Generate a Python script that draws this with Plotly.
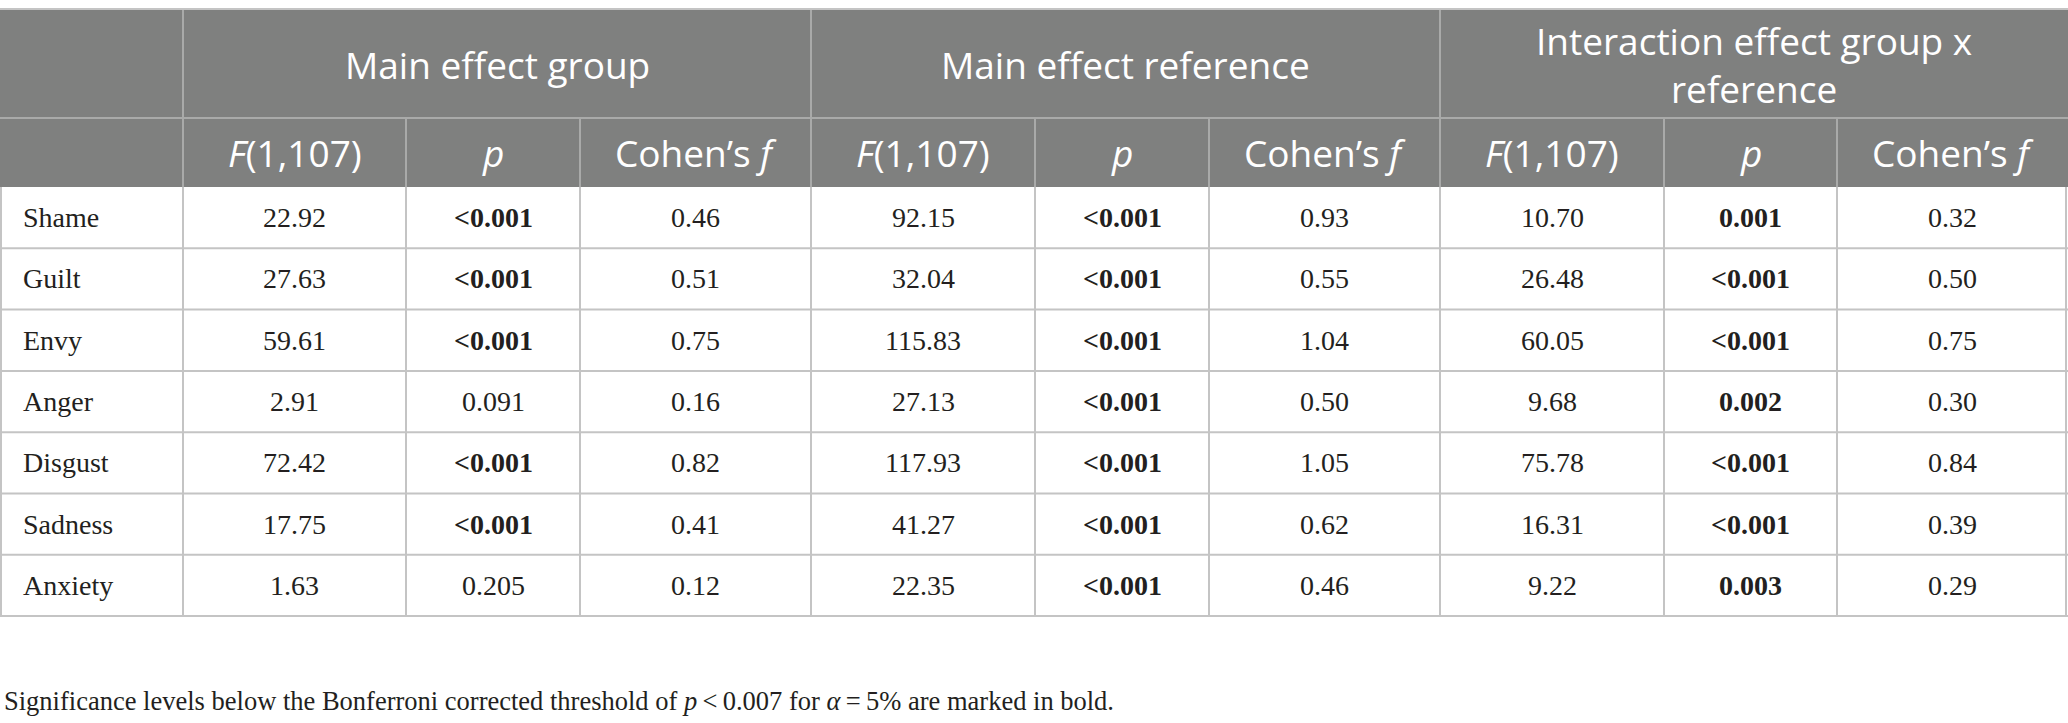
import plotly.graph_objects as go

# data
emotions = ["Shame", "Guilt", "Envy", "Anger", "Disgust", "Sadness", "Anxiety"]

f_group = ["22.92", "27.63", "59.61", "2.91", "72.42", "17.75", "1.63"]
p_group = ["<0.001", "<0.001", "<0.001", "0.091", "<0.001", "<0.001", "0.205"]
cf_group = ["0.46", "0.51", "0.75", "0.16", "0.82", "0.41", "0.12"]

f_ref = ["92.15", "32.04", "115.83", "27.13", "117.93", "41.27", "22.35"]
p_ref = ["<0.001", "<0.001", "<0.001", "<0.001", "<0.001", "<0.001", "<0.001"]
cf_ref = ["0.93", "0.55", "1.04", "0.50", "1.05", "0.62", "0.46"]

f_int = ["10.70", "26.48", "60.05", "9.68", "75.78", "16.31", "9.22"]
p_int = ["0.001", "<0.001", "<0.001", "0.002", "<0.001", "<0.001", "0.003"]
cf_int = ["0.32", "0.50", "0.75", "0.30", "0.84", "0.39", "0.29"]

groups = ["Main effect group", "Main effect reference", "Interaction effect group x<br>reference"]
subheads = ["<i>F</i>(1,107)", "<i>p</i>", "Cohen\u2019s <i>f</i>"]
footnote = ("Significance levels below the Bonferroni corrected threshold of "
            "<i>p</i>\u2009<\u20090.007 for <i>\u03b1</i>\u2009=\u20095% are marked in bold.")
threshold = 0.007

# layout of the table (pixels)
W, H = 2068, 723
col_w = [183, 223, 174, 231, 224, 174, 231, 224, 173, 231]
top, h1, h2, rh = 9, 109, 69, 61.3
hdr_bg = "#7f807f"
grid = "#c4c4c4"
hdr_line = "#a9aaa9"
txt = "#231f20"
sans = "Open Sans"
serif = "Liberation Serif"

edges = [0]
for w in col_w:
    edges.append(edges[-1] + w)


def is_sig(p):
    return float(p.replace("<", "")) < threshold


def cell_txt(v, bold=False):
    v = v.replace("<", "&lt;")
    return "<b>" + v + "</b>" if bold else v


columns = [f_group, p_group, cf_group, f_ref, p_ref, cf_ref, f_int, p_int, cf_int]
pcols = {1, 4, 7}

fig = go.Figure()
shapes = []
ann = []

y_h2 = top + h1
y_d = y_h2 + h2
y_end = y_d + rh * len(emotions)

# header background
shapes.append(dict(type="rect", x0=0, x1=W, y0=top, y1=y_d, fillcolor=hdr_bg,
                   line=dict(width=0), layer="below"))

# header row 1
for g, name in enumerate(groups):
    x0, x1 = edges[1 + 3 * g], edges[4 + 3 * g]
    ann.append(dict(x=(x0 + x1) / 2, y=top + h1 / 2 + 1, text=name, showarrow=False,
                    font=dict(family=sans, size=37, color="white"), xanchor="center",
                    yanchor="middle"))
    shapes.append(dict(type="line", x0=x0, x1=x0, y0=top, y1=y_d,
                       line=dict(color=hdr_line, width=2)))

# header row 2
for c in range(9):
    x0, x1 = edges[c + 1], edges[c + 2]
    ann.append(dict(x=(x0 + x1) / 2, y=y_h2 + h2 / 2, text=subheads[c % 3], showarrow=False,
                    font=dict(family=sans, size=37, color="white"), xanchor="center",
                    yanchor="middle"))
    if c % 3 != 0:
        shapes.append(dict(type="line", x0=x0, x1=x0, y0=y_h2, y1=y_d,
                           line=dict(color=hdr_line, width=2)))
shapes.append(dict(type="line", x0=0, x1=W, y0=y_h2, y1=y_h2, line=dict(color=hdr_line, width=2)))
shapes.append(dict(type="line", x0=0, x1=W, y0=top, y1=top, line=dict(color=grid, width=2)))

# data rows
for r, emo in enumerate(emotions):
    yc = y_d + rh * (r + 0.5)
    ann.append(dict(x=edges[0] + 21, y=yc, text=emo, showarrow=False, xanchor="left",
                    yanchor="middle", font=dict(family=serif, size=28, color=txt)))
    for c, col in enumerate(columns):
        v = col[r]
        bold = c in pcols and is_sig(v)
        ann.append(dict(x=(edges[c + 1] + edges[c + 2]) / 2, y=yc, text=cell_txt(v, bold),
                        showarrow=False, xanchor="center", yanchor="middle",
                        font=dict(family=serif, size=28, color=txt)))
    shapes.append(dict(type="line", x0=0, x1=W, y0=y_d + rh * (r + 1), y1=y_d + rh * (r + 1),
                       line=dict(color=grid, width=2)))

# vertical grid in body
for e in edges:
    xe = min(max(e, 1), W - 2)
    shapes.append(dict(type="line", x0=xe, x1=xe, y0=y_d, y1=y_end,
                       line=dict(color=grid, width=2)))

# footnote
ann.append(dict(x=2, y=y_end + 85, text=footnote, showarrow=False, xanchor="left",
                yanchor="middle", font=dict(family=serif, size=26.5, color=txt)))

fig.update_layout(
    width=W, height=H,
    margin=dict(l=0, r=0, t=0, b=0),
    paper_bgcolor="white", plot_bgcolor="white",
    xaxis=dict(range=[0, W], visible=False, fixedrange=True),
    yaxis=dict(range=[H, 0], visible=False, fixedrange=True),
    shapes=shapes,
    annotations=ann,
    showlegend=False,
)

# drop the default 8px page margin so the figure sits at the window origin
fig.write_html("out.html", post_script="document.body.style.margin='0';",
               config={"displayModeBar": False})
